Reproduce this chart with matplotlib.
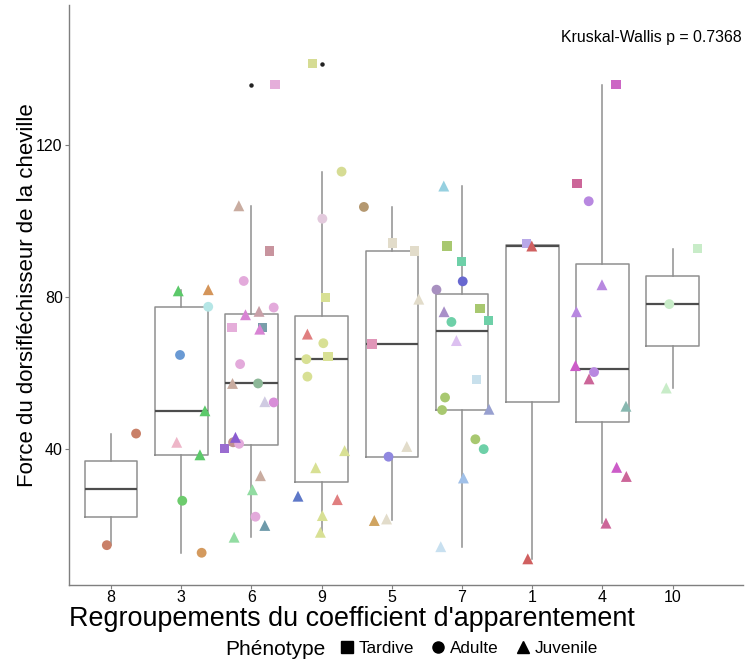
import matplotlib
matplotlib.use("Agg")
import matplotlib.pyplot as plt
from matplotlib.lines import Line2D
import numpy as np

plt.rcParams['font.family'] = ['Liberation Sans', 'DejaVu Sans']

# Kinship-coefficient groups, in display order
groups = ['8', '3', '6', '9', '5', '7', '1', '4', '10']

# One entry per animal: group, ankle dorsiflexor force, phenotype, colour, horizontal jitter
point_group = (
    ['8'] * 2 + ['3'] * 9 + ['6'] * 24 + ['9'] * 15 + ['5'] * 9
    + ['7'] * 18 + ['1'] * 3 + ['4'] * 12 + ['10'] * 3
)
point_value = [
    # 8
    44.1, 14.7,
    # 3
    81.7, 82.0, 77.5, 64.8, 50.1, 41.8, 38.5, 26.4, 12.7,
    # 6
    104.1, 92.2, 84.3, 77.3, 75.4, 76.3, 72.1, 72.1, 71.6, 62.4, 57.3, 57.3,
    52.5, 52.3, 43.1, 41.8, 41.4, 40.2, 33.0, 29.3, 22.2, 19.9, 16.8, 136.0,
    # 9
    113.1, 100.7, 79.9, 70.3, 67.9, 63.7, 64.3, 59.1, 39.6, 35.1, 27.6, 26.7,
    22.5, 18.1, 141.5,
    # 5
    103.8, 94.3, 92.2, 79.5, 67.7, 40.7, 38.0, 21.2, 21.6,
    # 7
    109.3, 93.5, 89.5, 84.2, 82.0, 76.2, 77.1, 73.5, 73.8, 68.6, 58.4, 53.6,
    50.3, 50.5, 42.6, 40.0, 32.4, 14.3,
    # 1
    94.1, 93.5, 11.1,
    # 4
    136.0, 110.0, 105.3, 83.3, 76.2, 62.0, 60.3, 58.5, 51.3, 35.2, 32.8, 20.5,
    # 10
    92.8, 78.2, 56.1,
]
T, A, J = 'Tardive', 'Adulte', 'Juvenile'
point_pheno = [
    # 8
    A, A,
    # 3
    J, J, A, A, J, J, J, A, A,
    # 6
    J, T, A, A, J, J, T, T, J, A, J, A, J, A, J, A, A, T, J, J, A, J, J, T,
    # 9
    A, A, T, J, A, A, T, A, J, J, J, J, J, J, T,
    # 5
    A, T, T, J, T, J, A, J, J,
    # 7
    J, T, T, A, A, J, T, A, T, J, T, A, A, J, A, A, J, J,
    # 1
    T, J, J,
    # 4
    T, T, A, J, J, J, A, J, J, J, J, J,
    # 10
    T, A, J,
]
point_color = [
    # 8
    '#c98068', '#c98068',
    # 3
    '#5cc96a', '#d4955a', '#b5e6e6', '#6a9ad4', '#5cc96a', '#eeb6c8',
    '#5cc96a', '#6dcb6d', '#d49a5e',
    # 6
    '#c9aca0', '#c8949e', '#e3aadb', '#e3aadb', '#d884d4', '#c9a0a8',
    '#e5aeda', '#7a9eaa', '#d884d4', '#e3aadb', '#c9aca0', '#8db898',
    '#d0cbe2', '#d88ed8', '#8a5cd0', '#c09090', '#e3aadb', '#9a6cd0',
    '#c9aca0', '#92dca2', '#e3aadb', '#6e9aaa', '#92dca2', '#e5aeda',
    # 9
    '#d6dc94', '#e3cadd', '#d8e094', '#e07f80', '#d8e094', '#d8e094',
    '#d8e094', '#d8e094', '#d8e094', '#d8e094', '#5e78c8', '#e07f80',
    '#d8e094', '#d8e094', '#d6dc94',
    # 5
    '#b49870', '#e2dcca', '#e2dcca', '#e2dcca', '#e096b8', '#e2dcca',
    '#9088e0', '#d0a460', '#e2dcca',
    # 7
    '#96d0e0', '#a8c870', '#6ed0a8', '#6868d0', '#a890c0', '#a890c8',
    '#a8c870', '#6ed0a8', '#6ed0a8', '#dcc0f0', '#c8e0ec', '#a8c870',
    '#a8c870', '#98a0d0', '#a8c870', '#6ed0a8', '#a0c0e8', '#c8e0f0',
    # 1
    '#b8a8e8', '#d06060', '#d06060',
    # 4
    '#cc66c4', '#cc6699', '#b888e0', '#b888e0', '#b888e0', '#cc5cc8',
    '#b888e0', '#cc6699', '#88b8b0', '#cc5cc8', '#cc6699', '#cc6699',
    # 10
    '#c8ecc8', '#c8ecc8', '#c8ecc8',
]
point_jitter = [
    # 8
    0.356, -0.061,
    # 3
    -0.043, 0.384, 0.384, -0.018, 0.337, -0.065, 0.266, 0.014, 0.290,
    # 6
    -0.180, 0.260, -0.110, 0.317, -0.085, 0.108, -0.276, 0.156, 0.118,
    -0.162, -0.270, 0.094, 0.190, 0.317, -0.228, -0.262, -0.176, -0.384,
    0.128, 0.014, 0.057, 0.190, -0.247, 0.336,
    # 9
    0.284, 0.010, 0.053, -0.203, 0.024, -0.218, 0.090, -0.203, 0.327,
    -0.085, -0.337, 0.223, 0.010, -0.018, -0.132,
    # 5
    -0.398, 0.014, 0.319, 0.384, -0.284, 0.213, -0.047, -0.250, -0.075,
    # 7
    -0.260, -0.213, -0.004, 0.010, -0.364, -0.256, 0.256, -0.151, 0.376,
    -0.080, 0.205, -0.242, -0.284, 0.384, 0.190, 0.309, 0.020, -0.303,
    # 1
    -0.077, -0.006, -0.063,
    # 4
    0.193, -0.361, -0.195, -0.006, -0.370, -0.384, -0.119, -0.190, 0.336,
    0.203, 0.341, 0.051,
    # 10
    0.351, -0.047, -0.090,
]

pheno_labels = ['Tardive', 'Adulte', 'Juvenile']
pheno_markers = {'Tardive': 's', 'Adulte': 'o', 'Juvenile': '^'}
pheno_sizes = {'Tardive': 44, 'Adulte': 50, 'Juvenile': 62}

kw_text = 'Kruskal-Wallis p = 0.7368'

# ---------------------------------------------------------------------------
fig = plt.figure(figsize=(7.45, 6.63), dpi=100)
ax = fig.add_axes([0.0926, 0.1176, 0.9044, 0.8749])

pos = {g: i + 1 for i, g in enumerate(groups)}
vals = np.array(point_value)
grp = np.array(point_group)
box_data = [vals[grp == g] for g in groups]

box_grey = '#8f8f8f'
ax.boxplot(
    box_data, positions=range(1, len(groups) + 1), widths=0.75, whis=1.5,
    showcaps=False, manage_ticks=False,
    boxprops=dict(color=box_grey, linewidth=1.1),
    whiskerprops=dict(color=box_grey, linewidth=1.1),
    medianprops=dict(color='#4d4d4d', linewidth=1.6),
    flierprops=dict(marker='o', markersize=2.2, markerfacecolor='#222222',
                    markeredgecolor='#222222'),
    zorder=2,
)

xs = np.array([pos[g] for g in point_group]) + np.array(point_jitter)
ph = np.array(point_pheno)
cols = np.array(point_color)
for p in pheno_labels:
    m = ph == p
    ax.scatter(xs[m], vals[m], marker=pheno_markers[p], s=pheno_sizes[p],
               c=cols[m], linewidths=0, zorder=3)

ax.text(8.70, 148.3, kw_text, ha='center', va='center', fontsize=11.4,
        color='black')

ax.set_xlim(0.4, 10.0)
ax.set_ylim(4.2, 157)
ax.set_xticks(range(1, len(groups) + 1))
ax.set_xticklabels(groups)
ax.set_yticks([40, 80, 120])

for side in ['top', 'right']:
    ax.spines[side].set_visible(False)
for side in ['left', 'bottom']:
    ax.spines[side].set_color('#7f7f7f')
    ax.spines[side].set_linewidth(1.0)
ax.tick_params(axis='both', colors='#7f7f7f', length=3, width=0.8,
               labelcolor='black', labelsize=11.5)
ax.tick_params(axis='y', pad=1.5)
ax.tick_params(axis='x', pad=0.5)

ax.set_xlabel("Regroupements du coefficient d'apparentement", fontsize=19.4,
              va='center')
ax.xaxis.set_label_coords(0.42, -0.058)
ax.set_ylabel('Force du dorsifléchisseur de la cheville', fontsize=16,
              va='center')
ax.yaxis.set_label_coords(-0.062, 0.5)

# Legend along the bottom, title to the left of the keys
handles = [Line2D([], [], linestyle='none', marker=pheno_markers[p],
                  markersize=8 if p != 'Juvenile' else 9,
                  markerfacecolor='black', markeredgecolor='black',
                  label=p) for p in pheno_labels]
fig.text(0.303, 0.020, 'Phénotype', fontsize=15, ha='left', va='center')
fig.legend(handles=handles, loc='center left', bbox_to_anchor=(0.44, 0.022),
           ncol=3, frameon=False, fontsize=12.3, handletextpad=0.1,
           columnspacing=0.8, handlelength=1.2, borderpad=0)

fig.savefig('out.png', dpi=100)
